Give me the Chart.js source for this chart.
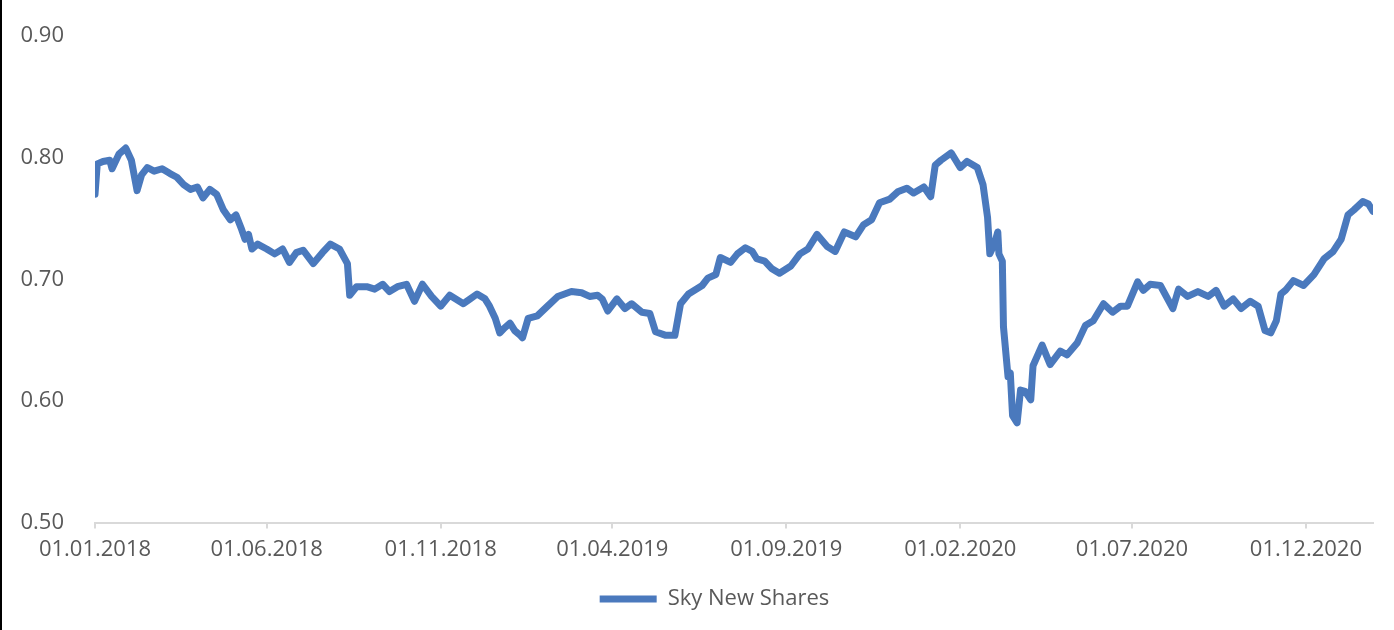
<!DOCTYPE html>
<html>
<head>
<meta charset="utf-8">
<title>Sky New Shares</title>
<script src="https://cdn.jsdelivr.net/npm/chart.js@4.4.1/dist/chart.umd.min.js"></script>
<style>
    html, body { margin: 0; padding: 0; background: #fff; }
    .wrap { position: relative; width: 1394px; height: 630px; }
    .edge { position: absolute; left: 0; top: 0; width: 2px; height: 630px; background: #000; }
</style>
</head>
<body>
<div class="wrap">
    <canvas id="shareChart" width="1394" height="630"></canvas>
    <div class="edge"></div>
</div>
<script>
// Price series (dd.mm.yyyy axis, values in GBP)
const dates = [
    '2018-01-01','2018-01-03','2018-01-08','2018-01-14','2018-01-16','2018-01-22','2018-01-28','2018-02-02','2018-02-07','2018-02-11',
    '2018-02-16','2018-02-22','2018-03-01','2018-03-08','2018-03-14','2018-03-20','2018-03-26','2018-04-01','2018-04-06','2018-04-12',
    '2018-04-18','2018-04-24','2018-04-30','2018-05-05','2018-05-10','2018-05-13','2018-05-16','2018-05-19','2018-05-24','2018-06-01',
    '2018-06-08','2018-06-15','2018-06-21','2018-06-27','2018-07-03','2018-07-12','2018-07-20','2018-07-27','2018-08-04','2018-08-11',
    '2018-08-13','2018-08-19','2018-08-28','2018-09-04','2018-09-11','2018-09-17','2018-09-24','2018-10-02','2018-10-09','2018-10-16',
    '2018-10-24','2018-11-01','2018-11-09','2018-11-21','2018-11-27','2018-12-03','2018-12-10','2018-12-14','2018-12-19','2018-12-23',
    '2018-12-27','2019-01-01','2019-01-05','2019-01-10','2019-01-12','2019-01-17','2019-01-25','2019-02-03','2019-02-12','2019-02-18',
    '2019-02-24','2019-03-05','2019-03-12','2019-03-19','2019-03-23','2019-03-28','2019-04-05','2019-04-12','2019-04-18','2019-04-27',
    '2019-05-04','2019-05-09','2019-05-18','2019-05-26','2019-05-31','2019-06-07','2019-06-19','2019-06-24','2019-07-01','2019-07-05',
    '2019-07-14','2019-07-20','2019-07-27','2019-08-02','2019-08-06','2019-08-13','2019-08-19','2019-08-26','2019-09-05','2019-09-13',
    '2019-09-20','2019-09-28','2019-10-07','2019-10-14','2019-10-22','2019-11-01','2019-11-08','2019-11-15','2019-11-22','2019-12-01',
    '2019-12-08','2019-12-16','2019-12-22','2019-12-31','2020-01-06','2020-01-10','2020-01-15','2020-01-24','2020-01-28','2020-02-01',
    '2020-02-07','2020-02-16','2020-02-21','2020-02-25','2020-02-27','2020-03-02','2020-03-05','2020-03-06','2020-03-09','2020-03-10',
    '2020-03-14','2020-03-16','2020-03-18','2020-03-22','2020-03-25','2020-03-29','2020-04-03','2020-04-05','2020-04-13','2020-04-20',
    '2020-04-29','2020-05-05','2020-05-14','2020-05-21','2020-05-28','2020-06-06','2020-06-14','2020-06-21','2020-06-27','2020-07-06',
    '2020-07-11','2020-07-17','2020-07-26','2020-08-06','2020-08-11','2020-08-19','2020-08-28','2020-09-06','2020-09-13','2020-09-20',
    '2020-09-28','2020-10-05','2020-10-13','2020-10-20','2020-10-26','2020-10-31','2020-11-05','2020-11-09','2020-11-13','2020-11-20',
    '2020-11-29','2020-12-08','2020-12-17','2020-12-25','2021-01-01','2021-01-07','2021-01-12','2021-01-20','2021-01-25','2021-01-29'
];

const skyNewShares = [
    0.770, 0.795, 0.797, 0.798, 0.791, 0.803, 0.808, 0.798, 0.773, 0.786,
    0.792, 0.789, 0.791, 0.787, 0.784, 0.778, 0.774, 0.776, 0.767, 0.774,
    0.770, 0.757, 0.749, 0.753, 0.741, 0.733, 0.737, 0.725, 0.729, 0.725,
    0.721, 0.725, 0.714, 0.722, 0.724, 0.713, 0.722, 0.729, 0.725, 0.713,
    0.687, 0.694, 0.694, 0.692, 0.696, 0.690, 0.694, 0.696, 0.682, 0.696,
    0.686, 0.678, 0.687, 0.680, 0.684, 0.688, 0.684, 0.678, 0.668, 0.656,
    0.660, 0.664, 0.658, 0.654, 0.652, 0.668, 0.670, 0.678, 0.686, 0.688,
    0.690, 0.689, 0.686, 0.687, 0.684, 0.674, 0.684, 0.676, 0.680, 0.673,
    0.672, 0.657, 0.654, 0.654, 0.680, 0.688, 0.695, 0.701, 0.704, 0.718,
    0.714, 0.721, 0.726, 0.723, 0.717, 0.715, 0.709, 0.705, 0.711, 0.721,
    0.725, 0.737, 0.727, 0.723, 0.739, 0.735, 0.745, 0.749, 0.763, 0.766,
    0.772, 0.775, 0.771, 0.776, 0.768, 0.794, 0.798, 0.804, 0.798, 0.792,
    0.797, 0.792, 0.778, 0.751, 0.721, 0.729, 0.739, 0.721, 0.715, 0.661,
    0.620, 0.623, 0.588, 0.582, 0.609, 0.608, 0.601, 0.629, 0.646, 0.630,
    0.641, 0.638, 0.648, 0.662, 0.666, 0.680, 0.673, 0.678, 0.678, 0.698,
    0.691, 0.696, 0.695, 0.676, 0.692, 0.686, 0.690, 0.686, 0.691, 0.678,
    0.684, 0.676, 0.682, 0.678, 0.658, 0.656, 0.666, 0.688, 0.691, 0.699,
    0.695, 0.704, 0.717, 0.723, 0.733, 0.753, 0.757, 0.764, 0.762, 0.756
];

// Axis ticks every five months
const tickDates = ['2018-01-01','2018-06-01','2018-11-01','2019-04-01','2019-09-01','2020-02-01','2020-07-01','2020-12-01'];
const tickLabels = ['01.01.2018','01.06.2018','01.11.2018','01.04.2019','01.09.2019','01.02.2020','01.07.2020','01.12.2020'];

const yTicks = [0.5, 0.6, 0.7, 0.8, 0.9];

// Days since the first date
const DAY = 86400000;
const origin = Date.parse(dates[0]);
function toDay(d) {
    return (Date.parse(d) - origin) / DAY;
}

const points = dates.map((d, i) => ({ x: toDay(d), y: skyNewShares[i] }));
const tickDays = tickDates.map(toDay);

const textColor = '#595959';
const lineColor = '#4a79bd';
const font = { family: "'Open Sans', sans-serif", size: 22 };

// Nudge the legend a bit right, like the original
const legendShift = {
    id: 'legendShift',
    afterLayout(chart) {
        if (chart.legend) {
            chart.legend.left += 28;
            chart.legend.right += 28;
        }
    }
};

new Chart(document.getElementById('shareChart'), {
    type: 'line',
    data: {
        datasets: [{
            label: 'Sky New Shares',
            data: points,
            borderColor: lineColor,
            backgroundColor: lineColor,
            borderWidth: 7,
            borderJoinStyle: 'round',
            borderCapStyle: 'round',
            pointRadius: 0,
            pointStyle: 'line',
            tension: 0,
            fill: false
        }]
    },
    options: {
        responsive: false,
        animation: false,
        layout: {
            padding: { top: 26, right: 21, bottom: 10, left: 0 }
        },
        plugins: {
            legend: {
                position: 'bottom',
                labels: {
                    usePointStyle: true,
                    pointStyleWidth: 57,
                    padding: 17,
                    color: textColor,
                    font: font
                }
            },
            tooltip: { enabled: false }
        },
        scales: {
            x: {
                type: 'linear',
                min: 0,
                max: toDay(dates[dates.length - 1]),
                afterBuildTicks: (scale) => {
                    scale.ticks = tickDays.map(v => ({ value: v }));
                },
                ticks: {
                    autoSkip: false,
                    maxRotation: 0,
                    padding: 8,
                    color: textColor,
                    font: font,
                    callback: (value, index) => tickLabels[index]
                },
                grid: {
                    drawOnChartArea: false,
                    drawTicks: true,
                    tickLength: 6,
                    color: '#d9d9d9',
                    lineWidth: 2
                },
                border: { display: true, color: '#d9d9d9', width: 2 }
            },
            y: {
                min: 0.5,
                max: 0.9,
                afterBuildTicks: (scale) => {
                    scale.ticks = yTicks.map(v => ({ value: v }));
                },
                afterFit: (scale) => {
                    scale.width = 95;
                },
                ticks: {
                    padding: 23,
                    color: textColor,
                    font: font,
                    callback: (value) => value.toFixed(2)
                },
                grid: { display: false },
                border: { display: false }
            }
        }
    },
    plugins: [legendShift]
});
</script>
</body>
</html>
